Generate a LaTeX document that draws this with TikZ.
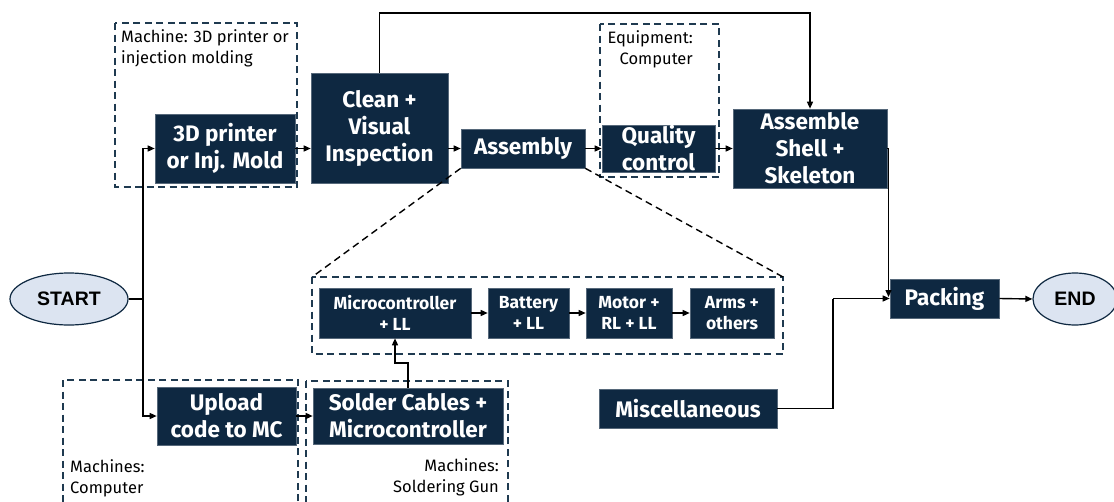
\documentclass[tikz,border=0pt]{standalone}
\usepackage{fontspec}
\setmainfont{Fira Sans}
\newfontfamily\arialfont{Liberation Sans}
\usetikzlibrary{arrows.meta,shapes.geometric}
\definecolor{navy}{HTML}{0E2841}
\definecolor{lightbl}{HTML}{DCE4F1}
\definecolor{dashc}{HTML}{1F3A50}
\tikzset{
  box/.style={fill=navy, draw=navy!70!white, line width=0.6pt, text=white, align=center, inner sep=0pt,
    font=\bfseries\fontsize{22.5}{27}\selectfont},
  sbox/.style={box, font=\bfseries\fontsize{17.5}{21}\selectfont},
  oval/.style={ellipse, fill=lightbl, draw=navy, line width=1.2pt, inner sep=0pt,
    font=\arialfont\bfseries\fontsize{19.5}{24}\selectfont},
  dbox/.style={draw=dashc, line width=1.6pt, dash pattern=on 7pt off 4.5pt},
  zline/.style={draw=black, line width=1.4pt, dash pattern=on 7pt off 4.5pt},
  arr/.style={draw=black, line width=1.4pt, -{Triangle[length=7pt,width=6pt]}},
  conn/.style={draw=black, line width=1.4pt},
  lbl/.style={font=\fontsize{16.5}{21}\selectfont, inner sep=0pt},
}
\begin{document}
\begin{tikzpicture}[x=1pt,y=-1pt]
\clip (0,0) rectangle (1114,501);
\fill[white] (0,0) rectangle (1114,501);
% dashed frames
\draw[dbox] (115,23) rectangle (297,187);
\draw[dbox] (600,24) rectangle (719,177);
\draw[dbox] (312,277) rectangle (783,354);
\draw[dbox] (63,380) rectangle (298,530);
\draw[dbox] (306,381) rectangle (508,530);
% labels
\node[lbl, anchor=north west, align=left] (l1) at (121,29) {Machine: 3D printer or\\injection molding};
\node[lbl, anchor=north east, align=right] (l2) at (693,30) {Equipment:\\Computer};
\node[lbl, anchor=north west, align=left] (l3) at (70,459) {Machines:\\Computer};
\node[lbl, anchor=north east, align=right] (l4) at (499,458) {Machines:\\Soldering Gun};
% main boxes
\node[box, minimum width=140, minimum height=69] (p3d) at (225,148.5) {3D printer\\or Inj. Mold};
\node[box, minimum width=137, minimum height=110] (clean) at (379.5,128) {Clean +\\Visual\\Inspection};
\node[box, minimum width=124, minimum height=39] (asmb) at (523,148.5) {Assembly};
\node[box, minimum width=113, minimum height=47] (qc) at (658.5,148.5) {Quality\\control};
\node[box, minimum width=154, minimum height=79] (shell) at (810,148.5) {Assemble\\Shell +\\Skeleton};
\node[box, minimum width=109, minimum height=39] (pack) at (944.5,298.5) {Packing};
\node[box, minimum width=178, minimum height=39] (misc) at (688,408.5) {Miscellaneous};
\node[box, minimum width=139, minimum height=58] (upload) at (226.5,416) {Upload\\code to MC};
\node[box, minimum width=190, minimum height=56] (solder) at (408,416) {Solder Cables +\\Microcontroller};
\node[sbox, minimum width=152, minimum height=50] (mc) at (395,313) {Microcontroller\\+ LL};
\node[sbox, minimum width=81, minimum height=50] (bat) at (528.5,313) {Battery\\+ LL};
\node[sbox, minimum width=86, minimum height=50] (mot) at (629,313) {Motor +\\RL + LL};
\node[sbox, minimum width=84, minimum height=50] (arms) at (732,313) {Arms +\\others};
\node[oval, minimum width=118, minimum height=52] (start) at (69,299) {START};
\node[oval, minimum width=84, minimum height=52] (end) at (1075,299) {END};
% zoom lines
\draw[zline] (asmb.south west) -- (312,277);
\draw[zline] (asmb.south east) -- (783,277);
% connectors
\coordinate (j) at (143,299);
\draw[conn] (start.east) -- (j);
\draw[arr] (j) |- (p3d.west);
\draw[arr] (j) |- (upload.west);
\draw[arr] (p3d.east) -- (clean.west |- p3d.east);
\draw[arr] (clean.east |- asmb.west) -- (asmb.west);
\draw[arr] (asmb.east) -- (qc.west);
\draw[arr] (qc.east) -- (shell.west);
\draw[arr] (clean.north) -- (clean.north |- 0,13) -| (shell.north);
\coordinate (pk) at (888.5,297);
\draw[arr] (shell.east) -| (pk);
\coordinate (mj) at (833,298.5);
\draw[conn] (misc.east) -| (mj);
\draw[arr] (mj) -- (pack.west);
\draw[arr] (pack.east) -- (end.west);
\draw[arr] (upload.east) -- (solder.west);
\coordinate (s1) at (408,363);
\coordinate (s2) at (395,363);
\draw[arr] (solder.north) -- (s1) -- (s2) -- (mc.south);
\draw[arr] (mc.east) -- (bat.west);
\draw[arr] (bat.east) -- (mot.west);
\draw[arr] (mot.east) -- (arms.west);
\end{tikzpicture}
\end{document}
